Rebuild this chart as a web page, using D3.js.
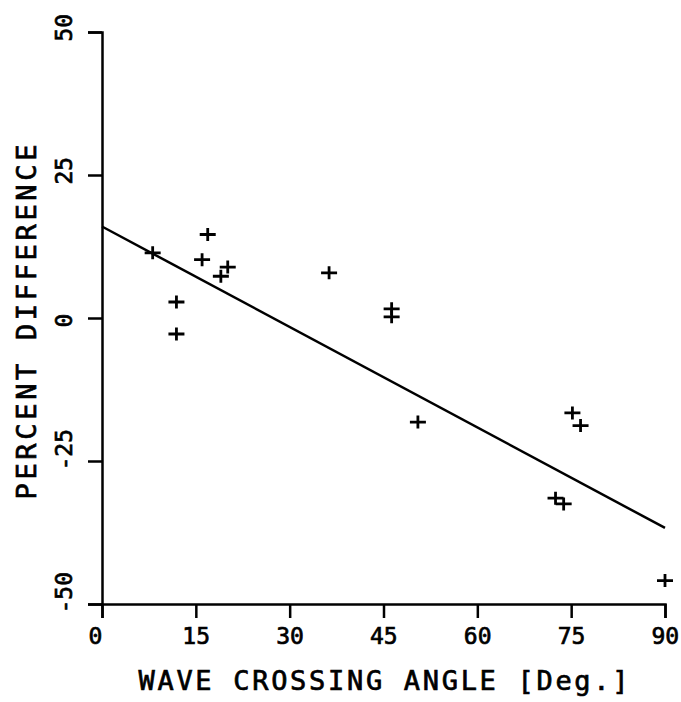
<!DOCTYPE html>
<html>
<head>
<meta charset="utf-8">
<script src="https://cdn.jsdelivr.net/npm/d3@7"></script>
<style>
  body { margin: 0; background: #fff; }
  text { font-family: "DejaVu Sans Mono", monospace; fill: #000; stroke: #000; stroke-width: 0.7px; }
</style>
</head>
<body>
<div id="chart"></div>
<script>
// data
var angle = [8.1, 16.9, 16.0, 19.0, 20.1, 11.9, 11.9, 36.3, 46.3, 46.3, 50.5, 75.2, 76.5, 72.5, 73.8, 90.0];
var pctDiff = [11.4, 14.6, 10.2, 7.3, 8.9, 2.8, -2.8, 7.9, 1.6, 0.2, -18.2, -16.6, -18.8, -31.5, -32.5, -45.9];
// fitted line end points
var fitX = [0, 90];
var fitY = [16.0, -36.7];
var xTicks = [0, 15, 30, 45, 60, 75, 90];
var yTicks = [-50, -25, 0, 25, 50];

var width = 681, height = 702;
var margin = {top: 32, right: 16, bottom: 98, left: 102};

var svg = d3.select("#chart")
  .append("svg")
    .attr("width", width)
    .attr("height", height);

var x = d3.scaleLinear()
    .domain([0, 90])
    .range([margin.left, width - margin.right]);
var y = d3.scaleLinear()
    .domain([-50, 50])
    .range([height - margin.bottom, margin.top]);

// x axis
var gx = svg.append("g")
    .attr("transform", "translate(0," + y(-50) + ")")
    .call(d3.axisBottom(x).tickValues(xTicks).tickSizeOuter(0).tickSize(14).tickFormat(function(d) { return String(d); }));
gx.selectAll("text")
    .attr("text-anchor", "start")
    .attr("x", -14)
    .attr("y", 40)
    .attr("dy", 0)
    .style("font-size", "23px");

// y axis
var gy = svg.append("g")
    .attr("transform", "translate(" + x(0) + ",0)")
    .call(d3.axisLeft(y).tickValues(yTicks).tickSizeOuter(0).tickSize(14).tickFormat(function(d) { return String(d); }));
gy.selectAll("text")
    .attr("text-anchor", "start")
    .attr("x", 0)
    .attr("y", 0)
    .attr("dy", 0)
    .attr("transform", "translate(-30,9) rotate(-90)")
    .style("font-size", "23px");

svg.selectAll(".domain, .tick line")
    .attr("stroke", "#000")
    .attr("stroke-width", 2.5);

// regression line
var line = d3.line()
    .x(function(d) { return x(d[0]); })
    .y(function(d) { return y(d[1]); });
svg.append("path")
    .datum(d3.zip(fitX, fitY))
    .attr("d", line)
    .attr("fill", "none")
    .attr("stroke", "#000")
    .attr("stroke-width", 2.5);

// plus markers
svg.selectAll(".pt")
    .data(d3.zip(angle, pctDiff))
    .enter()
    .append("path")
    .attr("class", "pt")
    .attr("transform", function(d) { return "translate(" + x(d[0]) + "," + y(d[1]) + ")"; })
    .attr("d", "M-8,0H8M0,-6.5V6.5")
    .attr("stroke", "#000")
    .attr("stroke-width", 2.8)
    .attr("fill", "none");

// axis titles
svg.append("text")
    .attr("x", (x(0) + x(90)) / 2)
    .attr("y", 690)
    .attr("text-anchor", "middle")
    .attr("font-size", "27px")
    .attr("textLength", 490)
    .attr("lengthAdjust", "spacing")
    .text("WAVE CROSSING ANGLE [Deg.]");

svg.append("text")
    .attr("transform", "translate(36," + (y(0) + 4) + ") rotate(-90)")
    .attr("text-anchor", "middle")
    .attr("font-size", "27px")
    .attr("textLength", 355)
    .attr("lengthAdjust", "spacing")
    .text("PERCENT DIFFERENCE");
</script>
</body>
</html>
